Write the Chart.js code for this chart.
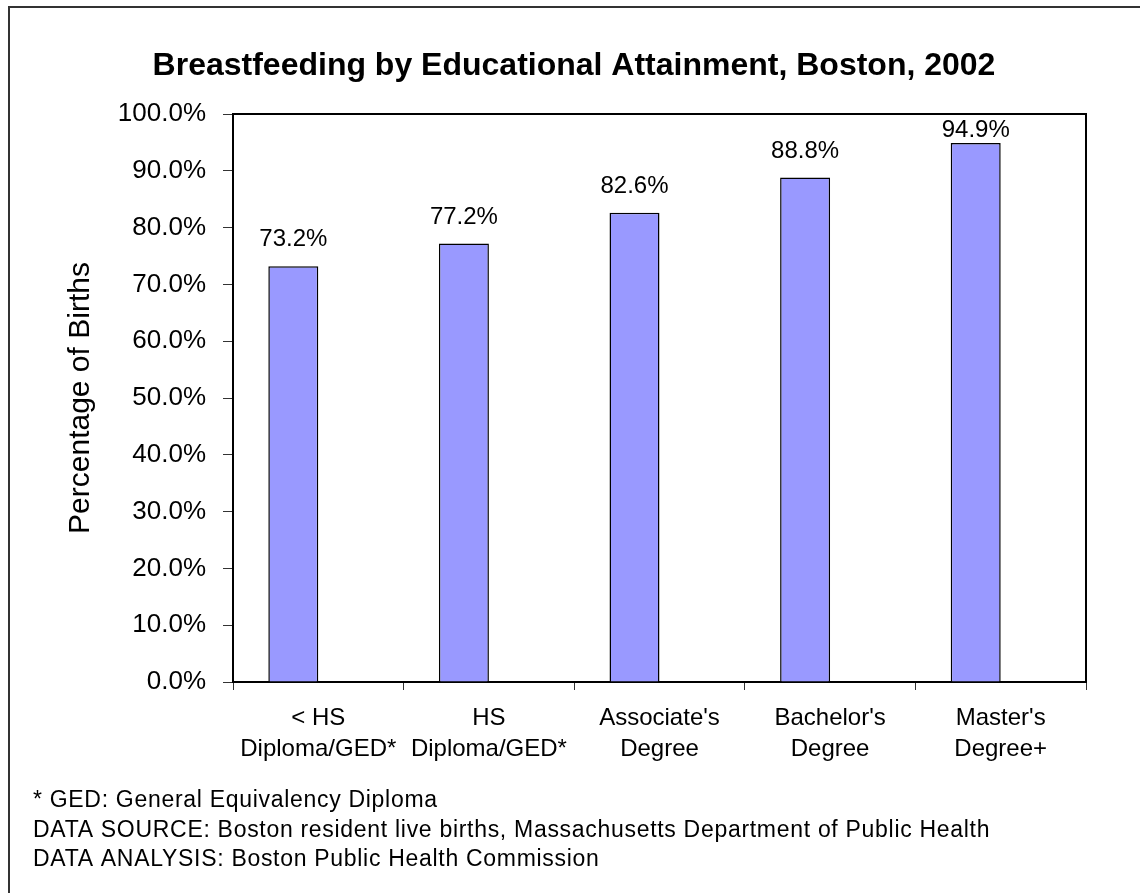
<!DOCTYPE html>
<html>
<head>
<meta charset="utf-8">
<script src="https://cdn.jsdelivr.net/npm/chart.js@4/dist/chart.umd.min.js"></script>
<style>
  html, body { margin: 0; padding: 0; background: #fff; }
  #wrap { width: 1140px; height: 893px; position: relative; }
</style>
</head>
<body>
<div id="wrap"><canvas id="c" width="1140" height="893"></canvas></div>
<script>
const categories = [["< HS", "Diploma/GED*"], ["HS", "Diploma/GED*"], ["Associate's", "Degree"], ["Bachelor's", "Degree"], ["Master's", "Degree+"]];
const values = [73.2, 77.2, 82.6, 88.8, 94.9];
const emptySeries = [null, null, null, null, null];
const valueLabels = ["73.2%", "77.2%", "82.6%", "88.8%", "94.9%"];
const yTickMin = 0, yTickMax = 100, yTickStep = 10;
const chartTitle = "Breastfeeding by Educational Attainment, Boston, 2002";
const yAxisTitle = "Percentage of Births";
const footnotes = [
  "* GED: General Equivalency Diploma",
  "DATA SOURCE: Boston resident live births, Massachusetts Department of Public Health",
  "DATA ANALYSIS: Boston Public Health Commission"
];

const FONT = "'Liberation Sans', Arial, Helvetica, sans-serif";

const decorPlugin = {
  id: 'decor',
  afterDraw(chart) {
    const ctx = chart.ctx;
    const a = chart.chartArea;
    ctx.save();
    // outer border (only top/left visible)
    ctx.strokeStyle = '#333';
    ctx.lineWidth = 2;
    ctx.strokeRect(9, 7, 1200, 1000);
    // plot frame top/right
    ctx.strokeStyle = '#000';
    ctx.lineWidth = 2;
    ctx.beginPath();
    ctx.moveTo(a.left, a.top);
    ctx.lineTo(a.right, a.top);
    ctx.lineTo(a.right, a.bottom);
    ctx.stroke();
    // title
    ctx.fillStyle = '#000';
    ctx.font = 'bold 32px ' + FONT;
    ctx.textAlign = 'center';
    ctx.textBaseline = 'alphabetic';
    ctx.fillText(chartTitle, 574, 75);
    // y axis title
    ctx.save();
    ctx.translate(81, (a.top + a.bottom) / 2);
    ctx.rotate(-Math.PI / 2);
    ctx.font = '30px ' + FONT;
    ctx.textAlign = 'center';
    ctx.textBaseline = 'middle';
    ctx.fillText(yAxisTitle, 0, 0);
    ctx.restore();
    // data labels
    const meta = chart.getDatasetMeta(0);
    ctx.font = '24px ' + FONT;
    ctx.textAlign = 'center';
    ctx.textBaseline = 'alphabetic';
    meta.data.forEach((bar, i) => {
      const y = Math.max(bar.y - 20, a.top + 23);
      ctx.fillText(valueLabels[i], bar.x, y);
    });
    // footnotes
    ctx.font = '23px ' + FONT;
    ctx.letterSpacing = '0.7px';
    ctx.textAlign = 'left';
    footnotes.forEach((t, i) => {
      ctx.fillText(t, 33, 807 + i * 29.5);
    });
    ctx.restore();
  }
};

new Chart(document.getElementById('c'), {
  type: 'bar',
  data: {
    labels: categories,
    datasets: [{
      data: values,
      backgroundColor: '#9999FF',
      borderColor: '#000',
      borderWidth: 1.5,
      categoryPercentage: 0.586,
      barPercentage: 1
    }, {
      data: emptySeries,
      backgroundColor: '#993366',
      borderColor: '#000',
      borderWidth: 1.5,
      categoryPercentage: 0.586,
      barPercentage: 1
    }]
  },
  options: {
    responsive: false,
    animation: false,
    devicePixelRatio: 1,
    layout: { padding: { top: 114, right: 54, left: 0, bottom: 0 } },
    plugins: { legend: { display: false }, title: { display: false }, tooltip: { enabled: false } },
    scales: {
      x: {
        afterFit(s) { s.height = 211; },
        grid: { offset: true, drawOnChartArea: false, drawTicks: true, tickLength: 8, color: '#333', lineWidth: 1 },
        border: { display: true, color: '#000', width: 2 },
        ticks: { color: '#000', font: { family: FONT, size: 24, lineHeight: 1.3 }, padding: 13, maxRotation: 0, autoSkip: false }
      },
      y: {
        min: yTickMin, max: yTickMax,
        afterFit(s) { s.width = 233; },
        grid: { drawOnChartArea: false, drawTicks: true, tickLength: 10, color: '#333', lineWidth: 1 },
        border: { display: true, color: '#000', width: 2 },
        ticks: { stepSize: yTickStep, color: '#000', font: { family: FONT, size: 26 }, padding: 17,
          callback: v => v.toFixed(1) + '%' }
      }
    }
  },
  plugins: [decorPlugin]
});
</script>
</body>
</html>
